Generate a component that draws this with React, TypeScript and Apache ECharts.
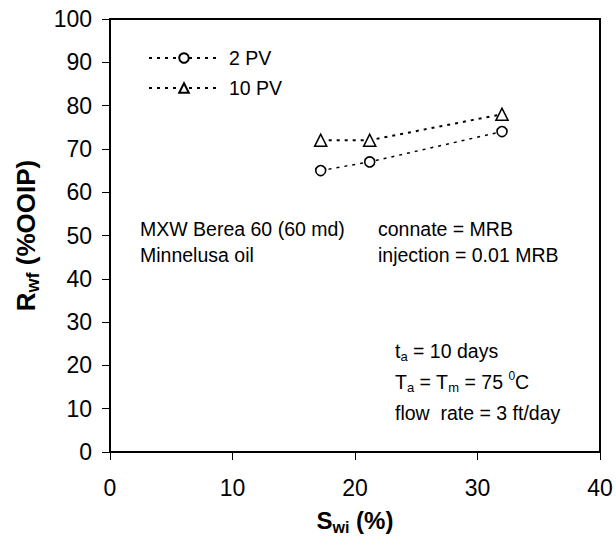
import React, { useEffect, useRef } from "react";
import * as echarts from "echarts";

const swi2PV = [17.2, 21.2, 32.0];
const rwf2PV = [65, 67, 74];
const swi10PV = [17.2, 21.2, 32.0];
const rwf10PV = [72, 72, 78];
const seriesNames = ["2 PV", "10 PV"];
const xTicks = [0, 10, 20, 30, 40];
const yTicks = [0, 10, 20, 30, 40, 50, 60, 70, 80, 90, 100];

const FONT = "'Liberation Sans', Arial, sans-serif";

export default function App() {
  const ref = useRef<HTMLDivElement>(null);
  useEffect(() => {
    if (!ref.current) return;
    const chart = echarts.init(ref.current, undefined, { renderer: "svg" });
    const AF = 19.5;
    const sub = { fontSize: 13, fontFamily: FONT, color: "#000", verticalAlign: "bottom" as const, lineHeight: 24 };
    const norm = { fontSize: AF, fontFamily: FONT, color: "#000", lineHeight: 24 };
    const annot = { fontSize: AF, fontFamily: FONT, fill: "#000" };
    const titleRich = (f: number) => ({
      b: { fontSize: f, fontWeight: "bold", fontFamily: FONT, color: "#000", lineHeight: f + 6 },
      s: { fontSize: Math.round(f * 0.68), fontWeight: "bold", fontFamily: FONT, color: "#000", verticalAlign: "bottom", lineHeight: f + 6 },
    });
    chart.setOption({
      animation: false,
      backgroundColor: "#fff",
      textStyle: { fontFamily: FONT, color: "#000" },
      grid: {
        left: 110,
        right: 16,
        top: 19,
        bottom: 88,
        show: true,
        borderColor: "#000",
        borderWidth: 2,
        backgroundColor: "transparent",
      },
      legend: {
        orient: "vertical",
        left: 148,
        top: 48,
        padding: 0,
        itemWidth: 70,
        itemHeight: 12,
        itemGap: 10,
        data: seriesNames,
        textStyle: { fontSize: AF, fontFamily: FONT, color: "#000", padding: [0, 0, 0, 5] },
      },
      xAxis: {
        type: "value",
        min: xTicks[0],
        max: xTicks[xTicks.length - 1],
        interval: 10,
        name: "{b|S}{s|wi}{b| (%)}",
        nameLocation: "middle",
        nameGap: 53,
        nameTextStyle: { rich: titleRich(24) },
        axisLine: { show: true, lineStyle: { color: "#000", width: 2 } },
        axisTick: { show: true, inside: false, length: 8, lineStyle: { color: "#000", width: 1 } },
        axisLabel: { fontSize: 23, color: "#000", fontFamily: FONT, margin: 24 },
        splitLine: { show: false },
      },
      yAxis: {
        type: "value",
        min: yTicks[0],
        max: yTicks[yTicks.length - 1],
        interval: 10,
        name: "{b|R}{s|wf}{b| (%OOIP)}",
        nameLocation: "middle",
        nameRotate: 90,
        nameGap: 68,
        nameTextStyle: { rich: titleRich(26) },
        axisLine: { show: true, lineStyle: { color: "#000", width: 2 } },
        axisTick: { show: true, inside: false, length: 8, lineStyle: { color: "#000", width: 1 } },
        axisLabel: { fontSize: 23, color: "#000", fontFamily: FONT, margin: 18 },
        splitLine: { show: false },
      },
      graphic: [
        { type: "text", left: 140, top: 219, style: { ...annot, text: "MXW Berea 60 (60 md)" } },
        { type: "text", left: 140, top: 245, style: { ...annot, text: "Minnelusa oil" } },
        { type: "text", left: 378, top: 219, style: { ...annot, text: "connate = MRB" } },
        { type: "text", left: 378, top: 245, style: { ...annot, text: "injection = 0.01 MRB" } },
        {
          type: "text",
          left: 395,
          top: 341,
          style: {
            ...annot,
            text: "{n|t}{s|a}{n| = 10 days}",
            rich: { n: norm, s: sub },
          },
        },
        {
          type: "text",
          left: 395,
          top: 370,
          style: {
            ...annot,
            text: "{n|T}{s|a}{n| = T}{s|m}{n| = 75 }{p|0}{n|C}",
            rich: {
              n: norm,
              s: sub,
              p: { fontSize: 12, fontFamily: FONT, color: "#000", verticalAlign: "top", lineHeight: 16 },
            },
          },
        },
        { type: "text", left: 395, top: 403, style: { ...annot, text: "flow  rate = 3 ft/day" } },
      ],
      series: [
        {
          name: seriesNames[0],
          type: "line",
          data: swi2PV.map((x, i) => [x, rwf2PV[i]]),
          symbol: "circle",
          symbolSize: 10,
          showSymbol: true,
          itemStyle: { color: "#fff", borderColor: "#000", borderWidth: 1.6 },
          lineStyle: { color: "#000", width: 1.5, type: [3, 5] },
        },
        {
          name: seriesNames[1],
          type: "line",
          data: swi10PV.map((x, i) => [x, rwf10PV[i]]),
          symbol: "triangle",
          symbolSize: 12,
          showSymbol: true,
          itemStyle: { color: "#fff", borderColor: "#000", borderWidth: 1.6 },
          lineStyle: { color: "#000", width: 2, type: [3, 5] },
        },
      ],
    });
    return () => chart.dispose();
  }, []);
  return (
    <div
      ref={ref}
      style={{ position: "fixed", left: 0, top: 0, width: 616, height: 540 }}
    />
  );
}
